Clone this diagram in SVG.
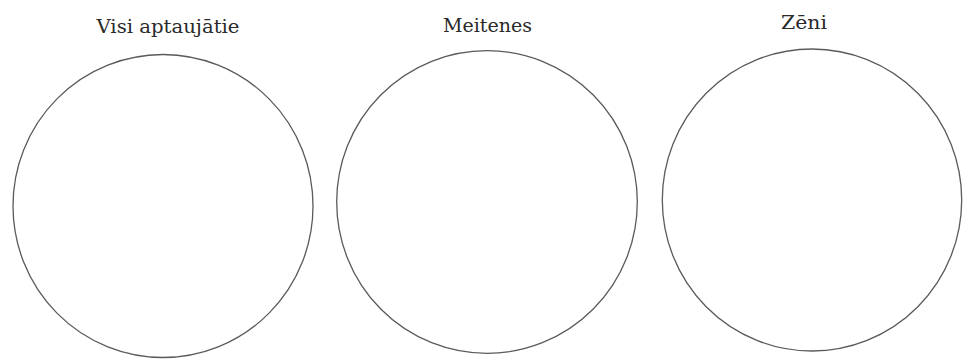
<svg xmlns="http://www.w3.org/2000/svg" width="965" height="361" viewBox="0 0 965 361">
<style>
.c{fill:none;stroke:#5a5a5a;stroke-width:1.3}
.t{font-family:"DejaVu Serif","Liberation Serif",serif;font-size:19px;fill:#2a2a2a;text-anchor:middle}
</style>
<rect width="965" height="361" fill="#fff"/>
<g id="node-visi">
<text class="t" x="168" y="33" textLength="143" lengthAdjust="spacingAndGlyphs">Visi aptaujātie</text>
<ellipse class="c" cx="163" cy="206" rx="150" ry="151.5"/>
</g>
<g id="node-meitenes">
<text class="t" x="487.5" y="31.5" textLength="89" lengthAdjust="spacingAndGlyphs">Meitenes</text>
<ellipse class="c" cx="487" cy="202" rx="150.3" ry="151.3"/>
</g>
<g id="node-zeni">
<text class="t" x="804" y="28.5" textLength="46" lengthAdjust="spacingAndGlyphs">Zēni</text>
<ellipse class="c" cx="812" cy="200" rx="149.7" ry="151"/>
</g>
<g id="connectors"/>
</svg>
